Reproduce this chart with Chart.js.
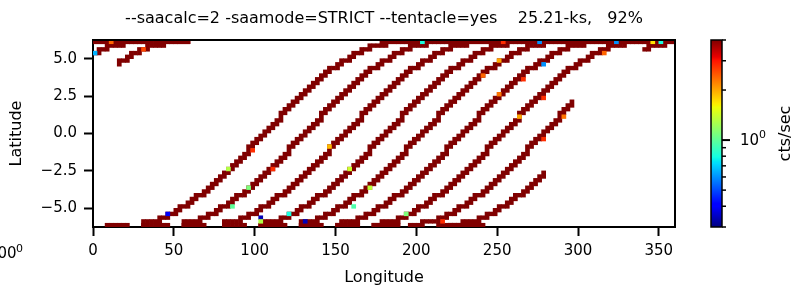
<!DOCTYPE html>
<html>
<head>
<meta charset="utf-8">
<style>
  html, body { margin: 0; padding: 0; background: #fff; }
</style>
<script src="https://cdn.jsdelivr.net/npm/chart.js@4.4.0/dist/chart.umd.min.js"></script>
</head>
<body>
<canvas id="saaMap" width="795" height="287"></canvas>
<script>
// axis ticks
const lonTicks = [0, 50, 100, 150, 200, 250, 300, 350];
const latTicks = [-5.0, -2.5, 0.0, 2.5, 5.0];
const cbarTicks = [0.3, 0.4, 0.5, 0.6, 0.7, 0.8, 0.9, 1, 2, 3, 4];

// latitude of one pass, read every 2.5 deg of longitude, from -90 to +90 deg around its ascending node
const passProfile = [
  -6.10, -6.10, -6.10, -6.10, -6.08, -6.05, -6.01, -5.96, -5.89, -5.81, -5.72, -5.61,
  -5.50, -5.37, -5.22, -5.07, -4.91, -4.73, -4.55, -4.35, -4.15, -3.94, -3.71, -3.48,
  -3.25, -3.00, -2.75, -2.49, -2.23, -1.96, -1.69, -1.41, -1.13, -0.85, -0.57, -0.29,
  0.00,
  0.29, 0.57, 0.85, 1.13, 1.41, 1.69, 1.96, 2.23, 2.49, 2.75, 3.00, 3.25,
  3.48, 3.71, 3.94, 4.15, 4.35, 4.55, 4.73, 4.91, 5.07, 5.22, 5.37, 5.50,
  5.61, 5.72, 5.81, 5.89, 5.96, 6.01, 6.05, 6.08, 6.10, 6.10, 6.10, 6.10
];

// passes seen in the map: node longitude and the visible stretch (lon > 360 wraps round)
const passNode = [106.25, 131.25, 156.25, 181.25, 203.75, 228.75, 253.75, 278.75, 278.75, 303.75, 303.75, 328.75];
const passFrom = [31.25, 56.25, 81.25, 103.75, 128.75, 151.25, 173.75, 196.25, 341.25, 221.25, 361.25, 376.25];
const passTo   = [196.25, 221.25, 246.25, 271.25, 293.75, 318.75, 343.75, 296.25, 368.75, 278.75, 393.75, 418.75];

// flat stretches along the top and bottom rows
const topFrom = [1.25, 178.75];
const topTo   = [58.75, 358.75];
const bottomFrom = [8.75, 31.25, 56.25, 81.25, 103.75, 128.75, 151.25, 173.75, 213.75, 228.75];
const bottomTo   = [21.25, 46.25, 68.75, 93.75, 118.75, 141.25, 163.75, 188.75, 226.25, 241.25];

// cells below saturation (cts/sec)
const hotLon  = [1.6, 11.3, 31, 84.1, 98.4, 87, 96.5, 111, 146.7, 158.6, 171, 160.7, 46.9, 104.7, 104.7, 120.6, 131.3,
                 202.7, 252.5, 276.4, 322.5, 346.7, 350.8, 252, 240.3, 278, 266.8, 252.4, 278.4, 264.8, 291, 278.3, 316.9, 194.6, 217.4];
const hotLat  = [5.4, 6.1, 5.5, -2.43, -1.14, -4.83, -3.67, -2.5, -0.99, -2.39, -3.67, -4.83, -5.47, -5.7, -5.95, -5.47, -5.76,
                 6.1, 6.1, 6.1, 6.1, 6.1, 6.1, 4.78, 3.85, 4.62, 3.71, 2.56, 2.45, 1.19, 1.0, -0.32, 5.49, -5.47, -5.98];
const hotRate = [0.65, 2.4, 2.6, 1.3, 2.8, 1.0, 1.1, 2.8, 1.9, 1.4, 1.35, 0.95, 0.4, 0.34, 1.3, 0.8, 0.34,
                 0.8, 2.8, 0.6, 0.6, 1.7, 0.8, 2.0, 2.4, 0.6, 2.8, 2.3, 2.8, 2.0, 2.3, 2.8, 2.4, 1.1, 2.8];

const vmin = 0.3, vmax = 4;
const dLon = 2.5, dLat = 0.25, latEdge = 6.25;
const FONT = "'DejaVu Sans', sans-serif";

function jet(t) {
  t = Math.max(0, Math.min(1, t));
  const seg = function (pts) {
    for (let i = 1; i < pts.length; i++) {
      if (t <= pts[i][0]) {
        const a = pts[i - 1], b = pts[i];
        return a[1] + (b[1] - a[1]) * (t - a[0]) / (b[0] - a[0]);
      }
    }
    return pts[pts.length - 1][1];
  };
  const r = seg([[0, 0], [0.35, 0], [0.66, 1], [0.89, 1], [1, 0.5]]);
  const g = seg([[0, 0], [0.125, 0], [0.375, 1], [0.64, 1], [0.91, 0], [1, 0]]);
  const b = seg([[0, 0.5], [0.11, 1], [0.34, 1], [0.65, 0], [1, 0]]);
  return 'rgb(' + Math.round(r * 255) + ',' + Math.round(g * 255) + ',' + Math.round(b * 255) + ')';
}
function rateColor(v) {
  return jet(Math.log(v / vmin) / Math.log(vmax / vmin));
}
const SAT = jet(1);

function latBin(lat) {
  return Math.max(0, Math.min(49, Math.floor((lat + latEdge) / dLat)));
}
function wrap(lon) {
  return lon >= 360 ? lon - 360 : lon;
}

// build the pass cells, one floating bar per longitude column
let passCells = [];
for (let p = 0; p < passNode.length; p++) {
  for (let c = passFrom[p]; c <= passTo[p] + 0.01; c += dLon) {
    const i = Math.round((c - passNode[p] + 90) / dLon);
    if (i < 0 || i >= passProfile.length) continue;
    const here = passProfile[i];
    const a = (passProfile[Math.max(i - 1, 0)] + here) / 2;
    const b = (passProfile[Math.min(i + 1, passProfile.length - 1)] + here) / 2;
    const k0 = latBin(Math.min(a, b)), k1 = latBin(Math.max(a, b));
    passCells.push({ x: wrap(c), y: [-latEdge + k0 * dLat, -latEdge + (k1 + 1) * dLat] });
  }
}
let rowCells = [];
for (let s = 0; s < topFrom.length; s++) {
  for (let c = topFrom[s]; c <= topTo[s] + 0.01; c += dLon) {
    rowCells.push({ x: c, y: [latEdge - dLat, latEdge] });
  }
}
for (let s = 0; s < bottomFrom.length; s++) {
  for (let c = bottomFrom[s]; c <= bottomTo[s] + 0.01; c += dLon) {
    rowCells.push({ x: c, y: [-latEdge, -latEdge + dLat] });
  }
}
let hotCells = [], hotColors = [];
for (let h = 0; h < hotLon.length; h++) {
  const col = Math.floor(hotLon[h] / dLon) * dLon + dLon / 2;
  const k = latBin(hotLat[h]);
  hotCells.push({ x: col, y: [-latEdge + k * dLat, -latEdge + (k + 1) * dLat] });
  hotColors.push(rateColor(hotRate[h]));
}

// title, top/right spines, colourbar and stray label
const extras = {
  id: 'extras',
  afterDraw(chart) {
    const ctx = chart.ctx;
    const area = chart.chartArea;
    ctx.save();
    ctx.strokeStyle = '#000';
    ctx.lineWidth = 2;
    ctx.beginPath();
    ctx.moveTo(area.left, area.top);
    ctx.lineTo(area.right, area.top);
    ctx.lineTo(area.right, area.bottom);
    ctx.stroke();

    ctx.fillStyle = '#000';
    ctx.font = '16px ' + FONT;
    ctx.textAlign = 'center';
    ctx.textBaseline = 'alphabetic';
    ctx.fillText('--saacalc=2 -saamode=STRICT --tentacle=yes    25.21-ks,   92%', (area.left + area.right) / 2, 23);

    // colourbar
    const cx0 = 711, cx1 = 722, top = area.top, bot = area.bottom, h = bot - top;
    for (let y = 0; y < h; y++) {
      ctx.fillStyle = jet(1 - (y + 0.5) / h);
      ctx.fillRect(cx0, top + y, cx1 - cx0, 1);
    }
    ctx.lineWidth = 1.5;
    ctx.strokeRect(cx0, top, cx1 - cx0, h);
    const ypos = v => bot - h * Math.log(v / vmin) / Math.log(vmax / vmin);
    cbarTicks.forEach(v => {
      const major = v === 1;
      ctx.lineWidth = major ? 2 : 1.5;
      ctx.beginPath();
      ctx.moveTo(cx1, ypos(v));
      ctx.lineTo(cx1 + (major ? 8 : 4), ypos(v));
      ctx.stroke();
    });
    ctx.fillStyle = '#000';
    ctx.textAlign = 'left';
    ctx.textBaseline = 'middle';
    ctx.font = '15px ' + FONT;
    ctx.fillText('10', 740, ypos(1) + 1);
    ctx.font = '11px ' + FONT;
    ctx.fillText('0', 759, ypos(1) - 5);

    ctx.save();
    ctx.translate(786, (top + bot) / 2);
    ctx.rotate(-Math.PI / 2);
    ctx.textAlign = 'center';
    ctx.font = '16px ' + FONT;
    ctx.fillText('cts/sec', 0, 0);
    ctx.restore();

    // leftover colourbar label cut by the figure edge
    ctx.textAlign = 'left';
    ctx.textBaseline = 'alphabetic';
    ctx.font = '15px ' + FONT;
    ctx.fillText('100', -12, 258);
    ctx.font = '11px ' + FONT;
    ctx.fillText('0', 16, 252);
    ctx.restore();
  }
};

new Chart(document.getElementById('saaMap'), {
  type: 'bar',
  data: {
    datasets: [
      { data: hotCells, backgroundColor: hotColors, order: 0 },
      { data: rowCells, backgroundColor: SAT, order: 1 },
      { data: passCells, backgroundColor: SAT, order: 2 }
    ]
  },
  options: {
    responsive: false,
    animation: false,
    devicePixelRatio: 1,
    layout: { padding: { left: 0, right: 120, top: 40, bottom: 0 } },
    datasets: {
      bar: { grouped: false, barThickness: 4.05, borderWidth: 0, borderSkipped: false }
    },
    plugins: { legend: { display: false }, tooltip: { enabled: false }, title: { display: false } },
    scales: {
      x: {
        type: 'linear',
        offset: false,
        min: 0,
        max: 360,
        afterBuildTicks: s => { s.ticks = lonTicks.map(v => ({ value: v })); },
        afterFit: s => { s.height = 60; },
        ticks: { color: '#000', font: { family: FONT, size: 15 }, padding: 6, maxRotation: 0, autoSkip: false },
        grid: { offset: false, drawOnChartArea: false, drawTicks: true, tickLength: 9, tickWidth: 2, tickColor: '#000' },
        border: { display: true, color: '#000', width: 2 },
        title: { display: true, text: 'Longitude', color: '#000', font: { family: FONT, size: 16 }, padding: { top: 0, bottom: 0 } }
      },
      y: {
        type: 'linear',
        min: -latEdge,
        max: latEdge,
        afterBuildTicks: s => { s.ticks = latTicks.map(v => ({ value: v })); },
        afterFit: s => { s.width = 93; },
        ticks: {
          color: '#000', font: { family: FONT, size: 15 }, padding: 7,
          callback: v => v.toFixed(1).replace('-', '\u2212')
        },
        grid: { drawOnChartArea: false, drawTicks: true, tickLength: 9, tickWidth: 2, tickColor: '#000' },
        border: { display: true, color: '#000', width: 2 },
        title: { display: true, text: 'Latitude', color: '#000', font: { family: FONT, size: 16 }, padding: { top: 7, bottom: 0 } }
      }
    }
  },
  plugins: [extras]
});
</script>
</body>
</html>
